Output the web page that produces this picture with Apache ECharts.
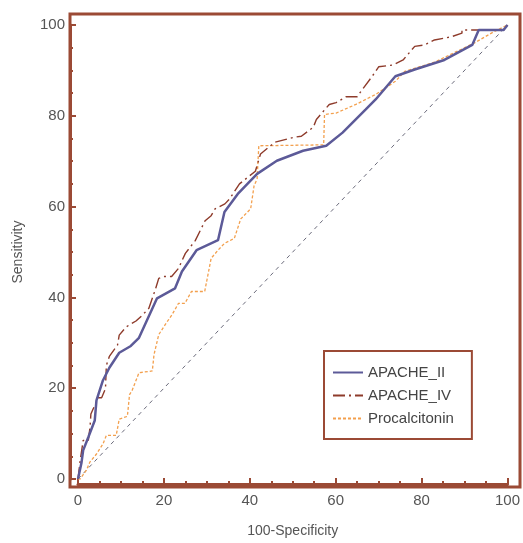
<!DOCTYPE html>
<html><head><meta charset="utf-8">
<script src="https://cdn.jsdelivr.net/npm/echarts@6/dist/echarts.min.js"></script>
<style>html,body{margin:0;padding:0;background:#fff}#c{width:523px;height:543px}</style>
</head><body><div id="c"></div>
<script>
var seriesNames = ['APACHE_II', 'APACHE_IV', 'Procalcitonin'];
var apache2X = [0,0.8,1.2,2.4,3.9,4.3,5.8,7.3,9.6,12.3,14.2,18.4,22.6,24.2,27.6,32.6,34.1,37.2,41.7,46.3,52.4,57.8,61.6,67,69.3,73.9,78.4,85.3,91.8,93.3,99.1,100];
var apache2Y = [0,3.5,6.3,9.2,12.9,17.3,21.7,24.5,27.8,29.3,31.1,39.8,42,45.7,50.4,52.6,58.8,62.8,67.2,70.1,72.3,73.4,76.3,81.4,83.6,88.7,90.2,92.3,95.6,98.9,98.9,100];
var apache4X = [0,0.5,1.2,2.4,2.8,3,4.7,5.5,6.4,6.6,7.3,9.2,9.6,11.2,13.5,14.9,16.5,18.1,18.8,20,21.8,23.4,25,27.3,29.6,31,31.9,34.2,35.3,37.6,41.3,42.5,44.7,45.9,50.5,52,54.8,55.5,58.5,60.1,62.4,65,66.2,68.5,70,73.4,75.7,78.4,80.7,83,86.9,89.4,89.4,99.1,100];
var apache4Y = [0,4,8.5,8.5,11.4,14.3,17.9,17.9,19.9,25,27,29.5,31.7,33.5,34.8,36,37.6,42,44.2,44.6,44.6,46.4,49.7,52.5,56.9,58,59.5,60.6,61.7,65,67.8,71.6,73.3,74.2,75.3,75.5,77.5,79.2,82.5,82.9,84.2,84.2,85.8,88.7,90.8,91.2,92.3,95.3,95.6,96.7,97.4,98.2,98.9,98.9,100];
var pctX = [0,0.5,2,2.75,4.3,5.8,6.6,8.9,9.6,11.5,12,12.6,14.2,17.3,17.7,18.8,20.3,21.9,23.4,24.9,26.4,29.5,31,32.6,34.1,36.4,37.9,40.2,41,41.7,42.1,57.2,57.4,60.1,64.7,69.3,73.9,76.1,83,92.2,96.8,100];
var pctY = [0,0,2,3.7,5.5,7.7,9.6,9.6,13.2,13.8,18.6,19.5,23.4,23.8,27.4,31.8,34,36.2,38.7,38.7,41.3,41.3,48.6,50.4,51.9,53,57.3,59.5,64.6,66.1,73.4,73.6,80.3,80.6,82.5,84.7,87.6,89.8,91.8,96,98.5,100];
var diagX = [0,100];
var diagY = [0,100];
var xTickInterval = 20, yTickInterval = 20;

function zip(a,b){return a.map(function(v,i){return [v,b[i]];});}
var brown = '#9b4a35';
var font = 'Liberation Sans, Arial, sans-serif';
var chart = echarts.init(document.getElementById('c'), null, {renderer:'canvas'});
chart.setOption({
  animation:false,
  backgroundColor:'#fff',
  grid:[
    {left:78, right:9, top:25, bottom:61},
    {left:70, right:3, top:14, bottom:56, show:true, borderColor:brown, borderWidth:3, backgroundColor:'transparent'}
  ],
  xAxis:[
    {type:'value', gridIndex:0, min:0, max:100, interval:xTickInterval, offset:5, position:'bottom',
     name:'100-Specificity', nameLocation:'middle', nameGap:40,
     nameTextStyle:{color:'#555', fontSize:14, fontFamily:font},
     axisLine:{show:true, onZero:false, lineStyle:{color:brown, width:3}},
     axisTick:{show:true, inside:true, length:6, lineStyle:{color:brown, width:2}},
     minorTick:{show:true, splitNumber:4, length:3, lineStyle:{color:brown, width:2}},
     axisLabel:{color:'#555', fontSize:15, fontFamily:font, margin:9},
     splitLine:{show:false}},
    {type:'value', gridIndex:1, show:false, min:0, max:1}
  ],
  yAxis:[
    {type:'value', gridIndex:0, min:0, max:100, interval:yTickInterval, offset:8, position:'left',
     name:'Sensitivity', nameLocation:'middle', nameGap:45,
     nameTextStyle:{color:'#555', fontSize:14, fontFamily:font},
     axisLine:{show:true, onZero:false, lineStyle:{color:brown, width:3}},
     axisTick:{show:true, inside:true, length:6, lineStyle:{color:brown, width:2}},
     minorTick:{show:true, splitNumber:4, length:3, lineStyle:{color:brown, width:2}},
     axisLabel:{color:'#555', fontSize:15, fontFamily:font, margin:5},
     splitLine:{show:false}},
    {type:'value', gridIndex:1, show:false, min:0, max:1}
  ],
  legend:{
    orient:'vertical', left:324, top:351,
    data:seriesNames,
    borderColor:brown, borderWidth:2, borderRadius:0,
    padding:[14,18,13,8], itemWidth:30, itemHeight:14, itemGap:8,
    itemStyle:{opacity:0},
    textStyle:{color:'#444', fontSize:15, fontFamily:font}
  },
  series:[
    {name:'diag', type:'line', xAxisIndex:0, yAxisIndex:0, data:zip(diagX,diagY), symbol:'none', silent:true,
     lineStyle:{color:'#6b6b7b', width:1, type:[4,4]}, z:1},
    {name:seriesNames[2], type:'line', data:zip(pctX,pctY), symbol:'none',
     lineStyle:{color:'#f3a04e', width:1.3, type:[3,2]}, itemStyle:{color:'#f3a04e'}, z:2},
    {name:seriesNames[1], type:'line', data:zip(apache4X,apache4Y), symbol:'none',
     lineStyle:{color:'#8e3b2b', width:1.4, type:[12,4,2,4]}, itemStyle:{color:'#8e3b2b'}, z:3},
    {name:seriesNames[0], type:'line', data:zip(apache2X,apache2Y), symbol:'none',
     lineStyle:{color:'#5c5a98', width:2.5}, itemStyle:{color:'#5c5a98'}, z:4}
  ]
});
</script></body></html>
